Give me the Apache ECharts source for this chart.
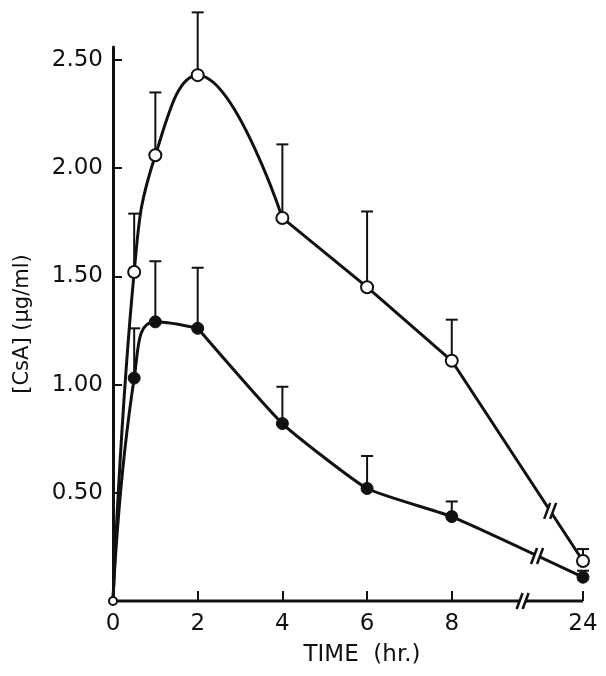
<!DOCTYPE html>
<html><head><meta charset="utf-8">
<script src="https://cdn.jsdelivr.net/npm/echarts@6.0.0/dist/echarts.min.js"></script>
<style>html,body{margin:0;padding:0;background:#fff}#c{width:606px;height:676px}</style>
</head><body><div id="c"></div>
<script>
// Data
const times = [0, 0.5, 1, 2, 4, 6, 8, 24];
const openMean = [0, 1.52, 2.06, 2.43, 1.77, 1.45, 1.11, 0.185];
const openUpper = [null, 1.79, 2.35, 2.72, 2.11, 1.80, 1.30, 0.24];
const filledMean = [0, 1.03, 1.29, 1.26, 0.82, 0.52, 0.39, 0.11];
const filledUpper = [null, 1.26, 1.57, 1.54, 0.99, 0.67, 0.46, 0.14];
const xTickValues = [0, 2, 4, 6, 8, 24];
const yTickValues = [0.5, 1.0, 1.5, 2.0, 2.5];
// the hand-drawn curves are smooth up to these times, then straight
const openSmoothEnd = 4;
const filledSmoothEnd = 2;

const FONT = 'DejaVu Sans';
const INK = '#111';

const chart = echarts.init(document.getElementById('c'), null, {renderer: 'canvas'});

function pts(vals) { return times.map((t, i) => [t, vals[i]]); }
function errPts(means, uppers) {
  return times.map((t, i) => [t, means[i], uppers[i]]).filter(d => d[2] != null);
}

function errRender(params, api) {
  const x = api.value(0), y = api.value(1), top = api.value(2);
  const p0 = api.coord([x, y]);
  const p1 = api.coord([x, top]);
  const style = {stroke: INK, lineWidth: 2};
  return {
    type: 'group',
    children: [
      {type: 'line', shape: {x1: p0[0], y1: p0[1], x2: p1[0], y2: p1[1]}, style},
      {type: 'line', shape: {x1: p1[0] - 6, y1: p1[1], x2: p1[0] + 6, y2: p1[1]}, style}
    ]
  };
}

function symSize(v) { return v[0] === 0 ? 8 : 12; }
function lineSeries(data, smooth) {
  return {type: 'line', data, smooth, symbol: 'none', z: 3, lineStyle: {color: INK, width: 3}};
}

const option = {
  animation: false,
  backgroundColor: '#fff',
  grid: {left: 113, right: 23, top: 47, bottom: 75},
  xAxis: {
    type: 'value', min: 0, max: 24,
    breaks: [{start: 9.5, end: 23.4, gap: '9%'}],
    breakArea: {show: false},
    axisLine: {show: false},
    axisTick: {inside: true, length: 10, lineStyle: {color: INK, width: 2}, customValues: xTickValues},
    axisLabel: {customValues: xTickValues, color: INK, fontFamily: FONT, fontSize: 23, margin: 12},
    splitLine: {show: false},
    name: 'TIME  (hr.)', nameLocation: 'middle', nameGap: 43,
    nameTextStyle: {color: INK, fontFamily: FONT, fontSize: 23, padding: [0, 0, 0, 28]}
  },
  yAxis: {
    type: 'value', min: 0, max: 2.56,
    axisLine: {lineStyle: {color: INK, width: 3}},
    axisTick: {inside: true, length: 9, lineStyle: {color: INK, width: 2}, customValues: yTickValues},
    axisLabel: {customValues: yTickValues, color: INK, fontFamily: FONT, fontSize: 23, margin: 10,
      formatter: v => v.toFixed(2)},
    splitLine: {show: false},
    name: '[CsA] (\u03bcg/ml)', nameLocation: 'middle', nameGap: 80,
    nameTextStyle: {color: INK, fontFamily: FONT, fontSize: 21}
  },
  series: [
    {type: 'custom', name: 'openErr', renderItem: errRender, data: errPts(openMean, openUpper), z: 1, clip: false},
    {type: 'custom', name: 'filledErr', renderItem: errRender, data: errPts(filledMean, filledUpper), z: 1, clip: false},
    lineSeries(pts(openMean).filter(d => d[0] <= openSmoothEnd), 0.45),
    lineSeries(pts(openMean).filter(d => d[0] >= openSmoothEnd), 0),
    lineSeries(pts(filledMean).filter(d => d[0] <= filledSmoothEnd), 0.5),
    lineSeries(pts(filledMean).filter(d => d[0] >= filledSmoothEnd), 0.15),
    {
      type: 'scatter', name: 'open', data: pts(openMean), z: 5,
      symbol: 'circle', symbolSize: symSize,
      itemStyle: {color: '#fff', borderColor: INK, borderWidth: 2, opacity: 1}
    },
    {
      type: 'scatter', name: 'filled', data: pts(filledMean).filter(d => d[0] > 0), z: 5,
      symbol: 'circle', symbolSize: symSize,
      itemStyle: {color: INK, borderColor: INK, borderWidth: 1, opacity: 1}
    }
  ]
};
chart.setOption(option);

// axis line and break marks "//" positioned from the library's own coordinate conversion
function breakMark(cx, cy) {
  const h = 8, s = 3, sep = 3;
  const a = [cx - sep - s, cy + h], b = [cx - sep + s, cy - h];
  const c = [cx + sep - s, cy + h], d = [cx + sep + s, cy - h];
  return [
    {type: 'polygon', shape: {points: [a, b, d, c]}, style: {fill: '#fff'}, z: 100},
    {type: 'line', shape: {x1: a[0], y1: a[1], x2: b[0], y2: b[1]}, style: {stroke: INK, lineWidth: 2.5}, z: 101},
    {type: 'line', shape: {x1: c[0], y1: c[1], x2: d[0], y2: d[1]}, style: {stroke: INK, lineWidth: 2.5}, z: 101}
  ];
}
function along(p, q, f) { return [p[0] + (q[0] - p[0]) * f, p[1] + (q[1] - p[1]) * f]; }
const conv = v => chart.convertToPixel({xAxisIndex: 0, yAxisIndex: 0}, v);
const i8 = times.indexOf(8), i24 = times.indexOf(24);
const oA = conv([8, openMean[i8]]), oB = conv([24, openMean[i24]]);
const fA = conv([8, filledMean[i8]]), fB = conv([24, filledMean[i24]]);
const x0 = conv([0, 0]), xA = conv([8, 0]), xB = conv([24, 0]);
const marks = [
  {type: 'line', shape: {x1: x0[0], y1: x0[1], x2: xB[0], y2: xB[1]}, style: {stroke: INK, lineWidth: 3}, z: 2},
  ...breakMark(...along(oA, oB, 0.75)),
  ...breakMark(...along(fA, fB, 0.65)),
  ...breakMark(...along(xA, xB, 0.54))
];
chart.setOption({graphic: {elements: marks}});
</script>
</body></html>
